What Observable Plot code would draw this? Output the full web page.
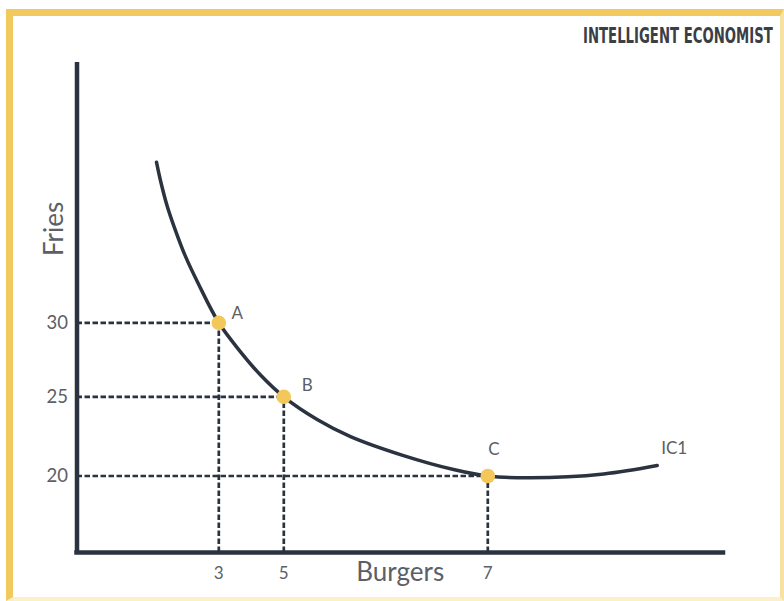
<!DOCTYPE html>
<html>
<head>
<meta charset="utf-8">
<script src="https://cdn.jsdelivr.net/npm/d3@7"></script>
<script src="https://cdn.jsdelivr.net/npm/@observablehq/plot@0.6"></script>
<style>
  html, body { margin: 0; padding: 0; background: #ffffff; }
  #wrap { position: relative; width: 784px; height: 601px; overflow: hidden; background: #ffffff; }
  #frame { position: absolute; left: 6px; top: 9px; right: 0; bottom: 0; box-sizing: border-box;
           border-top: 7px solid #f2c95f; border-left: 7px solid #f2c95f;
           border-right: 4px solid #f7e2a2; border-bottom: 4px solid #fbf0c8; }
  #chart { position: absolute; left: 0; top: 0; }
  #title { position: absolute; left: 0; top: 0; }
</style>
</head>
<body>
<div id="wrap">
  <div id="frame"></div>
  <div id="chart"></div>
  <svg id="title" width="784" height="60"></svg>
</div>
<script>
// ---- data ----
const titleText = "INTELLIGENT ECONOMIST";
const xLabel = "Burgers";
const yLabel = "Fries";
const curveName = "IC1";

const pointLabels = ["A", "B", "C"];
const pointBurgers = [3, 5, 7];
const pointFries = [30, 25, 20];

const curveBurgers = [1.682, 1.766, 1.904, 2.084, 2.295, 2.570, 3.000, 3.668, 4.283, 5.000, 5.327, 5.654, 6.174, 6.664, 7.000, 7.543, 8.476, 9.156];
const curveFries   = [40.43, 39.24, 37.62, 35.99, 34.31, 32.52, 30.00, 28.04, 26.47, 25.00, 23.57, 22.49, 21.29, 20.41, 20.00, 19.88, 20.13, 20.66];

const xTicks = [3, 5, 7];
const yTicks = [20, 25, 30];
// the hand-drawn axes are not evenly spaced: piecewise scales through the tick values
const xBreaks = [0, 3, 5, 7, 10];
const yBreaks = [15, 20, 25, 30, 46.9];
const yLabelAt = 36.1;

// ---- tables ----
const points = pointLabels.map((l, i) => ({label: l, x: pointBurgers[i], y: pointFries[i]}));
const curve = curveBurgers.map((x, i) => ({x, y: curveFries[i]}));
const curveEnd = [curve[curve.length - 1]];
const x0 = xBreaks[0], x1 = xBreaks[xBreaks.length - 1];
const y0 = yBreaks[0], y1 = yBreaks[yBreaks.length - 1];

const ink = "#2b3340";
const gray = "#5b6067";
const gold = "#f3c75a";
const dash = {stroke: ink, strokeWidth: 2.7, strokeDasharray: "5.5,2.5"};

const labelMark = (i, dx, dy) =>
  Plot.text([points[i]], {x: "x", y: "y", text: "label", dx, dy, fill: gray, fontSize: 17, textAnchor: "middle"});

const chart = Plot.plot({
  width: 784,
  height: 601,
  marginLeft: 76.5,
  marginRight: 61,
  marginTop: 62,
  marginBottom: 49,
  style: {fontFamily: "Lato, 'Open Sans', sans-serif", background: "transparent", overflow: "visible"},
  x: {type: "linear", domain: xBreaks, range: [76.5, 218.3, 283.3, 487.3, 723]},
  y: {type: "linear", domain: yBreaks, range: [552, 475.5, 396.3, 322.3, 62]},
  marks: [
    // dashed guides
    Plot.ruleY(points, {y: "y", x1: x0, x2: "x", ...dash}),
    Plot.ruleX(points, {x: "x", y1: y0, y2: "y", ...dash}),
    // axis lines
    Plot.ruleX([x0], {y1: y0, y2: y1, stroke: ink, strokeWidth: 4.5}),
    Plot.ruleY([y0], {x1: x0, x2: x1, stroke: ink, strokeWidth: 4.5, strokeLinecap: "square"}),
    // tick labels
    Plot.axisY({ticks: yTicks, tickSize: 0, tickPadding: 9, fontSize: 18.5, color: gray, label: null}),
    Plot.axisX({ticks: xTicks, tickSize: 0, tickPadding: 14, fontSize: 17, color: gray, label: null}),
    // axis titles
    Plot.text([xLabel], {frameAnchor: "bottom", lineAnchor: "bottom", dy: 28, fontSize: 26, fill: gray}),
    Plot.text([yLabel], {y: [yLabelAt], frameAnchor: "left", dx: -22.5, rotate: -90, fontSize: 26, fill: gray, textAnchor: "middle"}),
    // indifference curve
    Plot.line(curve, {x: "x", y: "y", curve: "catmull-rom", stroke: ink, strokeWidth: 3.5}),
    // points
    Plot.dot(points, {x: "x", y: "y", r: 7.3, fill: gold}),
    // labels
    labelMark(0, 18.5, -9),
    labelMark(1, 23.5, -11),
    labelMark(2, 6, -26),
    Plot.text(curveEnd, {x: "x", y: "y", text: () => curveName, dx: 17, dy: -17, fill: gray, fontSize: 17})
  ]
});
document.getElementById("chart").appendChild(chart);

// title (condensed bold wordmark), squeezed to the reference width
const t = d3.select("#title").append("text")
  .attr("x", 0).attr("y", 0)
  .attr("font-family", "'DejaVu Sans Condensed', 'DejaVu Sans', sans-serif")
  .attr("font-weight", "bold").attr("font-size", 20.5)
  .attr("fill", "#3a3e45")
  .text(titleText);
const w = t.node().getComputedTextLength() || 190;
t.attr("transform", `translate(583,42.5) scale(${190 / w},1)`);
</script>
</body>
</html>
